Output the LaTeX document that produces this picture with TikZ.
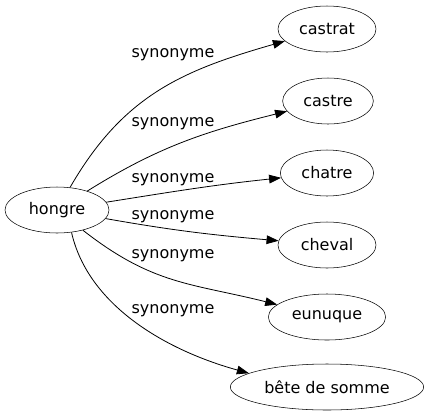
\documentclass[tikz,border=0pt]{standalone}
\usepackage{fontspec}
\setmainfont{DejaVu Sans}
\usetikzlibrary{shapes.geometric,arrows.meta}

\begin{document}
\begin{tikzpicture}[x=0.75pt,y=-0.75pt,
  word/.style={ellipse,draw,inner sep=0pt,minimum height=34.5pt,font=\fontsize{12}{14}\selectfont},
  rel/.style={font=\fontsize{12}{14}\selectfont},
  syn/.style={-{Triangle[length=9pt,width=6.5pt]},semithick}]
\useasboundingbox (0,0) rectangle (429,419);

\node[word,minimum width=78pt] (hongre) at (57,210) {hongre};
\node[word,minimum width=73.5pt] (castrat) at (327,29) {castrat};
\node[word,minimum width=68pt] (castre) at (328,101) {castre};
\node[word,minimum width=70pt] (chatre) at (327,173) {chatre};
\node[word,minimum width=73.5pt] (cheval) at (327,245) {cheval};
\node[word,minimum width=88pt] (eunuque) at (327,317) {eunuque};
\node[word,minimum width=145pt] (bete) at (327,387) {bête de somme};

\draw[syn] (hongre) to[out=60,in=196,looseness=1.05] (castrat);
\draw[syn] (hongre) to[out=32,in=194] (castre);
\draw[syn] (hongre) to[out=9,in=186] (chatre);
\draw[syn] (hongre) to[out=-10,in=175] (cheval);
\draw[syn] (hongre) to[out=-38,in=166,looseness=1.1] (eunuque);
\draw[syn] (hongre.-57) .. controls (88,305) and (165,350) .. (bete.170);

\node[rel] (l1) at (173,55) {synonyme};
\node[rel] (l2) at (173,124) {synonyme};
\node[rel] (l3) at (173,180) {synonyme};
\node[rel] (l4) at (173,217) {synonyme};
\node[rel] (l5) at (173,256) {synonyme};
\node[rel] (l6) at (173,311) {synonyme};
\end{tikzpicture}
\end{document}
